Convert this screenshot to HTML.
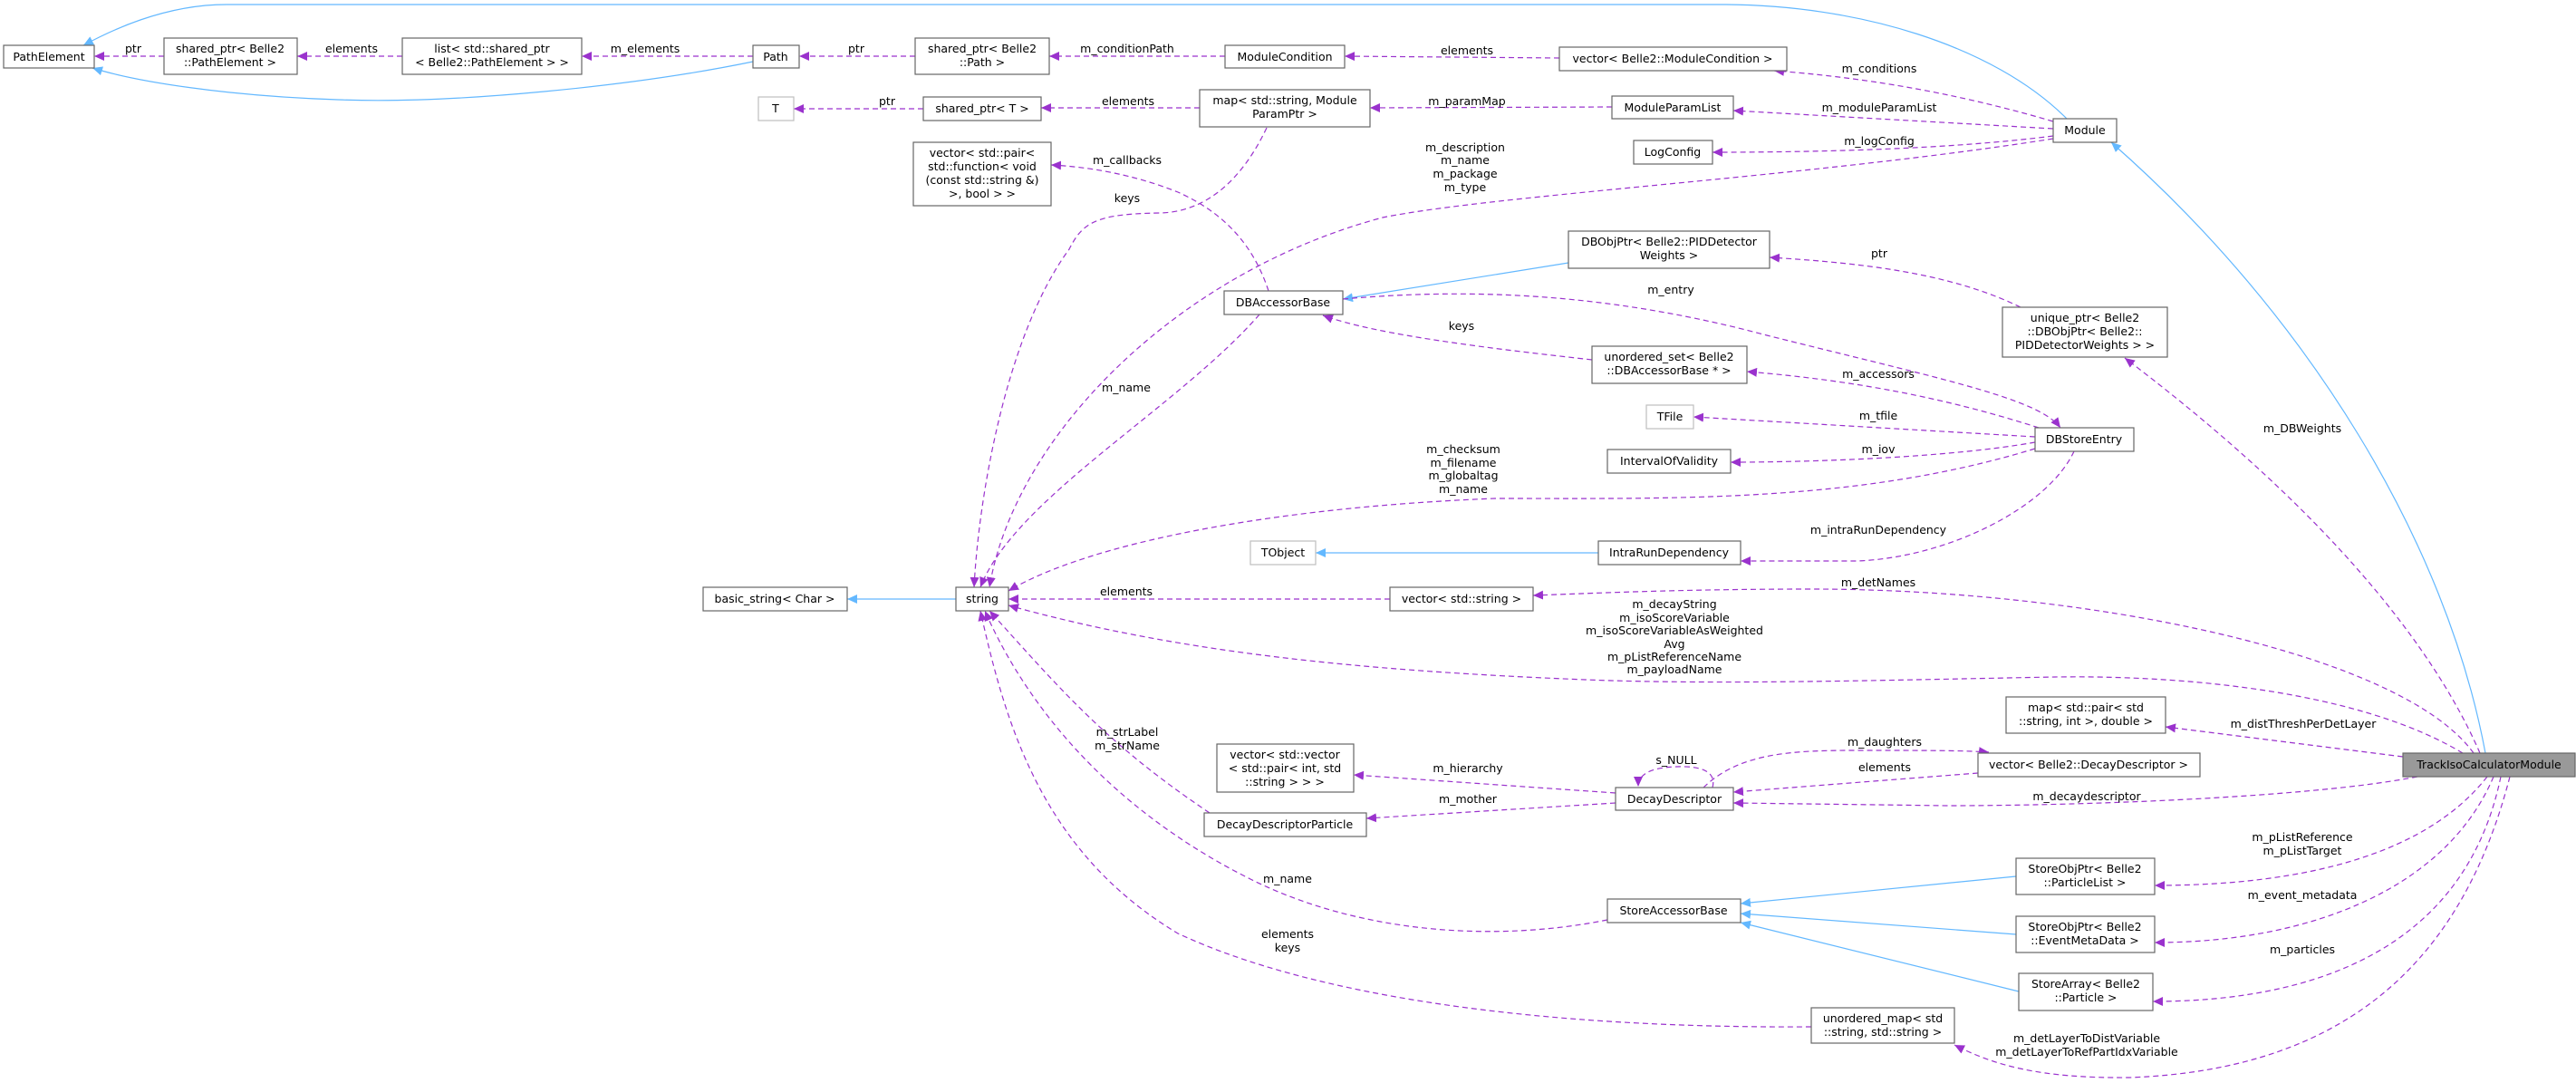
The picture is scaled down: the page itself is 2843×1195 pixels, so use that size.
<!DOCTYPE html>
<html><head><meta charset="utf-8"><style>
html,body{margin:0;padding:0;background:#fff;}
svg{display:block;}
text{font-family:"DejaVu Sans","Liberation Sans",sans-serif;font-size:12.5px;fill:#000;}
.n{fill:#fff;stroke:#666;stroke-width:1.2;}
.g{fill:#fff;stroke:#bfbfbf;stroke-width:1.2;}
.p{fill:none;stroke:#9a32cd;stroke-width:1.2;stroke-dasharray:6,4;marker-end:url(#ap);}
.b{fill:none;stroke:#63b8ff;stroke-width:1.2;marker-end:url(#ab);}
</style></head><body>
<svg width="2843" height="1195" viewBox="0 0 2843 1195" xmlns="http://www.w3.org/2000/svg">
<defs>
<marker id="ap" markerUnits="userSpaceOnUse" markerWidth="12" markerHeight="10" refX="11" refY="5" orient="auto"><path d="M0,0 L11,5 L0,10 z" fill="#9a32cd"/></marker>
<marker id="ab" markerUnits="userSpaceOnUse" markerWidth="12" markerHeight="10" refX="11" refY="5" orient="auto"><path d="M0,0 L11,5 L0,10 z" fill="#63b8ff"/></marker>
</defs>
<g>
<path class="b" d="M831,68 C700,95 500,115 373,110 C250,106 150,90 102,75"/>
<path class="b" d="M2281,131 C2200,50 2050,5 1900,5 L250,5 C180,5 120,35 92,50"/>
<path class="b" d="M2743,831 C2700,600 2550,350 2330,157"/>
<path class="b" d="M1731,290 L1482,330"/>
<path class="b" d="M1764,610 L1452,610"/>
<path class="b" d="M1055,661 L935,661"/>
<path class="b" d="M2225,967 L1921,997"/>
<path class="b" d="M2225,1031 L1921,1008"/>
<path class="b" d="M2228,1094 L1921,1018"/>

<path class="p" d="M181,62 L104,62"/>
<path class="p" d="M444,62 L328,62"/>
<path class="p" d="M831,62 L642,62"/>
<path class="p" d="M1010,62 L882,62"/>
<path class="p" d="M1352,62 L1158,62"/>
<path class="p" d="M1721,64 L1484,62"/>
<path class="p" d="M2266,134 C2150,100 2050,85 1958,78"/>
<path class="p" d="M2266,142 L1913,122"/>
<path class="p" d="M2266,150 C2150,165 2000,168 1890,168"/>
<path class="p" d="M2266,153 C2000,195 1650,215 1526,240 C1300,300 1120,480 1092,648"/>
<path class="p" d="M1779,118 L1512,119"/>
<path class="p" d="M1324,119 L1149,119"/>
<path class="p" d="M1019,120 L876,120"/>
<path class="p" d="M1398,141 C1370,200 1330,234 1280,235 C1210,236 1195,245 1180,275 C1110,370 1080,550 1075,648"/>
<path class="p" d="M1400,321 C1380,260 1340,230 1300,212 C1250,192 1200,184 1160,182"/>
<path class="p" d="M1390,347 C1300,450 1120,550 1082,648"/>
<path class="p" d="M1482,330 C1650,315 1800,330 1950,370 C2150,420 2250,440 2274,472"/>
<path class="p" d="M1757,397 C1650,385 1520,370 1460,348"/>
<path class="p" d="M2250,472 C2150,440 2050,420 1928,410"/>
<path class="p" d="M2246,482 L1869,460"/>
<path class="p" d="M2246,488 C2150,505 2000,510 1910,510"/>
<path class="p" d="M2246,495 C2050,555 1850,550 1650,550 C1400,560 1200,600 1113,652"/>
<path class="p" d="M2289,498 C2260,560 2150,615 2050,619 L1921,619"/>
<path class="p" d="M2230,339 C2150,300 2050,290 1953,284"/>
<path class="p" d="M2737,831 C2680,700 2550,550 2345,395"/>
<path class="p" d="M1534,661 L1113,661"/>
<path class="p" d="M2730,831 C2650,720 2300,650 2000,650 C1850,650 1750,655 1692,657"/>
<path class="p" d="M2718,831 C2600,760 2400,745 2268,747 C2100,750 1900,756 1750,750 C1500,740 1300,720 1113,668"/>
<path class="p" d="M2652,835 L2390,802"/>
<path class="p" d="M2668,857 C2550,880 2300,889 2150,889 L1913,886"/>
<path class="p" d="M2183,853 L1913,874"/>
<path class="p" d="M1880,869 C1920,830 1980,828 2050,828 C2120,828 2170,828 2195,830"/>
<path class="p" d="M1890,869 C1895,850 1875,845 1850,846 C1820,847 1808,855 1808,868"/>
<path class="p" d="M1783,875 L1494,855"/>
<path class="p" d="M1783,886 L1508,903"/>
<path class="p" d="M1335,897 C1220,820 1170,760 1092,674"/>
<path class="p" d="M1774,1015 C1650,1040 1500,1030 1380,970 C1200,880 1120,750 1087,674"/>
<path class="p" d="M1999,1133 C1700,1135 1450,1100 1300,1030 C1150,940 1110,800 1082,674"/>
<path class="p" d="M2770,857 C2720,1050 2600,1180 2350,1189 C2250,1190 2200,1175 2157,1153"/>
<path class="p" d="M2745,857 C2680,940 2550,977 2378,977"/>
<path class="p" d="M2752,857 C2700,980 2550,1040 2378,1040"/>
<path class="p" d="M2760,857 C2720,1050 2550,1105 2376,1105"/>
</g>

<g text-anchor="middle">
<!-- nodes -->
<rect class="n" x="4" y="50" width="100" height="25"/><text x="54" y="67">PathElement</text>
<rect class="n" x="181" y="42" width="147" height="40"/><text x="254" y="58">shared_ptr&lt; Belle2</text><text x="254" y="73">::PathElement &gt;</text>
<rect class="n" x="444" y="42" width="198" height="40"/><text x="543" y="58">list&lt; std::shared_ptr</text><text x="543" y="73">&lt; Belle2::PathElement &gt; &gt;</text>
<rect class="n" x="831" y="50" width="51" height="25"/><text x="856" y="67">Path</text>
<rect class="n" x="1010" y="42" width="148" height="40"/><text x="1084" y="58">shared_ptr&lt; Belle2</text><text x="1084" y="73">::Path &gt;</text>
<rect class="n" x="1352" y="50" width="132" height="25"/><text x="1418" y="67">ModuleCondition</text>
<rect class="n" x="1721" y="52" width="251" height="26"/><text x="1846" y="69">vector&lt; Belle2::ModuleCondition &gt;</text>
<rect class="g" x="837" y="107" width="39" height="26"/><text x="856" y="124">T</text>
<rect class="n" x="1019" y="107" width="130" height="26"/><text x="1084" y="124">shared_ptr&lt; T &gt;</text>
<rect class="n" x="1324" y="99" width="188" height="41"/><text x="1418" y="115">map&lt; std::string, Module</text><text x="1418" y="130">ParamPtr &gt;</text>
<rect class="n" x="1779" y="106" width="134" height="25"/><text x="1846" y="123">ModuleParamList</text>
<rect class="n" x="1803" y="155" width="87" height="26"/><text x="1846" y="172">LogConfig</text>
<rect class="n" x="1008" y="157" width="152" height="70"/><text x="1084" y="173">vector&lt; std::pair&lt;</text><text x="1084" y="188">std::function&lt; void</text><text x="1084" y="203">(const std::string &amp;)</text><text x="1084" y="218">&gt;, bool &gt; &gt;</text>
<rect class="n" x="2266" y="131" width="70" height="26"/><text x="2301" y="148">Module</text>
<rect class="n" x="1731" y="255" width="222" height="41"/><text x="1842" y="271">DBObjPtr&lt; Belle2::PIDDetector</text><text x="1842" y="286">Weights &gt;</text>
<rect class="n" x="1351" y="321" width="131" height="26"/><text x="1416" y="338">DBAccessorBase</text>
<rect class="n" x="2210" y="339" width="182" height="55"/><text x="2301" y="355">unique_ptr&lt; Belle2</text><text x="2301" y="370">::DBObjPtr&lt; Belle2::</text><text x="2301" y="385">PIDDetectorWeights &gt; &gt;</text>
<rect class="n" x="1757" y="382" width="171" height="41"/><text x="1842" y="398">unordered_set&lt; Belle2</text><text x="1842" y="413">::DBAccessorBase * &gt;</text>
<rect class="g" x="1817" y="447" width="52" height="26"/><text x="1843" y="464">TFile</text>
<rect class="n" x="2246" y="472" width="109" height="26"/><text x="2300" y="489">DBStoreEntry</text>
<rect class="n" x="1774" y="496" width="136" height="26"/><text x="1842" y="513">IntervalOfValidity</text>
<rect class="g" x="1380" y="597" width="72" height="26"/><text x="1416" y="614">TObject</text>
<rect class="n" x="1764" y="597" width="157" height="26"/><text x="1842" y="614">IntraRunDependency</text>
<rect class="n" x="776" y="648" width="159" height="26"/><text x="855" y="665">basic_string&lt; Char &gt;</text>
<rect class="n" x="1055" y="648" width="58" height="26"/><text x="1084" y="665">string</text>
<rect class="n" x="1534" y="648" width="158" height="26"/><text x="1613" y="665">vector&lt; std::string &gt;</text>
<rect class="n" x="2214" y="769" width="176" height="40"/><text x="2302" y="785">map&lt; std::pair&lt; std</text><text x="2302" y="800">::string, int &gt;, double &gt;</text>
<rect class="n" x="1343" y="821" width="151" height="53"/><text x="1418" y="837">vector&lt; std::vector</text><text x="1418" y="852">&lt; std::pair&lt; int, std</text><text x="1418" y="867">::string &gt; &gt; &gt;</text>
<rect class="n" x="2183" y="831" width="245" height="26"/><text x="2305" y="848">vector&lt; Belle2::DecayDescriptor &gt;</text>
<rect class="n" x="1783" y="869" width="130" height="25"/><text x="1848" y="886">DecayDescriptor</text>
<rect class="n" x="1329" y="897" width="179" height="26"/><text x="1418" y="914">DecayDescriptorParticle</text>
<rect x="2652" y="831" width="190" height="26" fill="#999" stroke="#666" stroke-width="1.2"/><text x="2747" y="848">TrackIsoCalculatorModule</text>
<rect class="n" x="2225" y="947" width="153" height="40"/><text x="2301" y="963">StoreObjPtr&lt; Belle2</text><text x="2301" y="978">::ParticleList &gt;</text>
<rect class="n" x="1774" y="992" width="147" height="26"/><text x="1847" y="1009">StoreAccessorBase</text>
<rect class="n" x="2225" y="1011" width="153" height="40"/><text x="2301" y="1027">StoreObjPtr&lt; Belle2</text><text x="2301" y="1042">::EventMetaData &gt;</text>
<rect class="n" x="2228" y="1074" width="148" height="41"/><text x="2302" y="1090">StoreArray&lt; Belle2</text><text x="2302" y="1105">::Particle &gt;</text>
<rect class="n" x="1999" y="1112" width="158" height="39"/><text x="2078" y="1128">unordered_map&lt; std</text><text x="2078" y="1143">::string, std::string &gt;</text>

<!-- labels -->
<text x="147" y="58">ptr</text>
<text x="388" y="58">elements</text>
<text x="712" y="58">m_elements</text>
<text x="945" y="58">ptr</text>
<text x="1244" y="58">m_conditionPath</text>
<text x="1619" y="60">elements</text>
<text x="2074" y="80">m_conditions</text>
<text x="2074" y="123">m_moduleParamList</text>
<text x="2074" y="160">m_logConfig</text>
<text x="1619" y="116">m_paramMap</text>
<text x="1245" y="116">elements</text>
<text x="979" y="116">ptr</text>
<text x="1244" y="181">m_callbacks</text>
<text x="1244" y="223">keys</text>
<text x="1617" y="167">m_description</text><text x="1617" y="181">m_name</text><text x="1617" y="196">m_package</text><text x="1617" y="211">m_type</text>
<text x="2074" y="284">ptr</text>
<text x="1844" y="324">m_entry</text>
<text x="1613" y="364">keys</text>
<text x="1243" y="432">m_name</text>
<text x="2073" y="417">m_accessors</text>
<text x="2073" y="463">m_tfile</text>
<text x="2073" y="500">m_iov</text>
<text x="1615" y="500">m_checksum</text><text x="1615" y="515">m_filename</text><text x="1615" y="529">m_globaltag</text><text x="1615" y="544">m_name</text>
<text x="2073" y="589">m_intraRunDependency</text>
<text x="2541" y="477">m_DBWeights</text>
<text x="2073" y="647">m_detNames</text>
<text x="1243" y="657">elements</text>
<text x="1848" y="671">m_decayString</text><text x="1848" y="686">m_isoScoreVariable</text><text x="1848" y="700">m_isoScoreVariableAsWeighted</text><text x="1848" y="715">Avg</text><text x="1848" y="729">m_pListReferenceName</text><text x="1848" y="743">m_payloadName</text>
<text x="2542" y="803">m_distThreshPerDetLayer</text>
<text x="1244" y="812">m_strLabel</text><text x="1244" y="827">m_strName</text>
<text x="2080" y="823">m_daughters</text>
<text x="1850" y="843">s_NULL</text>
<text x="2080" y="851">elements</text>
<text x="1620" y="852">m_hierarchy</text>
<text x="1620" y="886">m_mother</text>
<text x="2303" y="883">m_decaydescriptor</text>
<text x="2541" y="928">m_pListReference</text><text x="2541" y="943">m_pListTarget</text>
<text x="2541" y="992">m_event_metadata</text>
<text x="1421" y="974">m_name</text>
<text x="2541" y="1052">m_particles</text>
<text x="1421" y="1035">elements</text><text x="1421" y="1050">keys</text>
<text x="2303" y="1150">m_detLayerToDistVariable</text><text x="2303" y="1165">m_detLayerToRefPartIdxVariable</text>
</g>
</svg>
</body></html>
